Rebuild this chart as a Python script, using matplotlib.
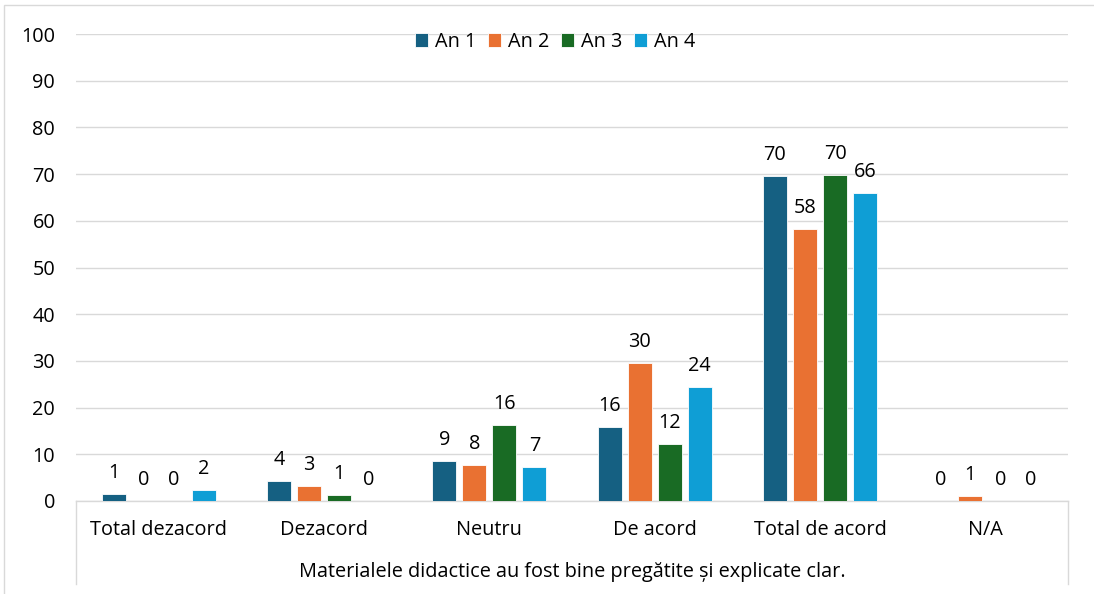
"""
plot.py
Grafic cu bare grupate - evaluarea materialelor didactice pe ani de studiu
"""

import matplotlib
matplotlib.use('Agg')
import matplotlib.pyplot as plt
from matplotlib.patches import Rectangle
from matplotlib.lines import Line2D
from matplotlib.transforms import blended_transform_factory
import numpy as np

# -------------------------------
# DATE
# -------------------------------

categories = ['Total dezacord', 'Dezacord', 'Neutru', 'De acord', 'Total de acord', 'N/A']
group_title = 'Materialele didactice au fost bine pregătite și explicate clar.'
series_names = ['An 1', 'An 2', 'An 3', 'An 4']

an1 = [1.4, 4.3, 8.6, 15.8, 69.6, 0.0]
an2 = [0.0, 3.2, 7.7, 29.6, 58.2, 1.1]
an3 = [0.0, 1.3, 16.3, 12.2, 69.8, 0.0]
an4 = [2.4, 0.0, 7.3, 24.4, 66.0, 0.0]

y_ticks = [0, 10, 20, 30, 40, 50, 60, 70, 80, 90, 100]

colors = ['#156082', '#E97132', '#196B24', '#0F9ED5']

# -------------------------------
# FIGURA
# -------------------------------

W, H = 1094, 594
plt.rcParams['font.family'] = ['Open Sans', 'DejaVu Sans']
FS = 14.3

fig = plt.figure(figsize=(W / 100, H / 100), dpi=100)
ax = fig.add_axes([76 / W, 1 - 501 / H, (1068 - 76) / W, (501 - 34) / H])

x = np.arange(len(categories))
step = 30 / 165.3
width = 24 / 165.3
all_series = [an1, an2, an3, an4]

for i, (vals, name, col) in enumerate(zip(all_series, series_names, colors)):
    pos = x + (i - 1.5) * step
    ax.bar(pos, vals, width=width, color=col, edgecolor='white', linewidth=0.6,
           label=name, zorder=3)
    for px, v in zip(pos, vals):
        ax.annotate(f'{v:.0f}', (px, v), xytext=(0, 11.5), textcoords='offset points',
                    ha='center', va='baseline', fontsize=FS, color='#000000')

ax.set_xlim(-0.5, len(categories) - 0.5)
ax.set_ylim(0, 100)
ax.set_yticks(y_ticks)
ax.tick_params(axis='y', length=0, pad=15, labelsize=FS)
ax.set_xticks([])
ax.grid(axis='y', color='#D9D9D9', linewidth=1, zorder=0)
for s in ['top', 'right', 'left']:
    ax.spines[s].set_visible(False)
ax.spines['bottom'].set_color('#D9D9D9')
ax.spines['bottom'].set_linewidth(1)

# etichete categorii (doua niveluri)
trans = blended_transform_factory(ax.transData, fig.transFigure)
for xi, cat in zip(x, categories):
    ax.text(xi, 1 - 535 / H, cat, transform=trans, ha='center', va='baseline', fontsize=FS)
fig.text((76 + 1068) / 2 / W, 1 - 577 / H, group_title, ha='center', va='baseline', fontsize=FS)

for xp in [76, 1068]:
    fig.add_artist(Line2D([xp / W, xp / W], [1 - 501 / H, 1 - 584 / H],
                          transform=fig.transFigure, color='#D9D9D9', linewidth=1))

# chenar grafic
fig.add_artist(Rectangle((4 / W, -0.1), 2, 1 - 5 / H + 0.1, transform=fig.transFigure,
                         fill=False, edgecolor='#D9D9D9', linewidth=1))

ax.legend(loc='center', bbox_to_anchor=(555 / W, 1 - 42 / H), bbox_transform=fig.transFigure,
          ncol=4, frameon=False, fontsize=FS, handlelength=0.65, handleheight=0.65,
          handletextpad=0.35, columnspacing=0.6, borderpad=0)

fig.savefig('out.png', dpi=100)
